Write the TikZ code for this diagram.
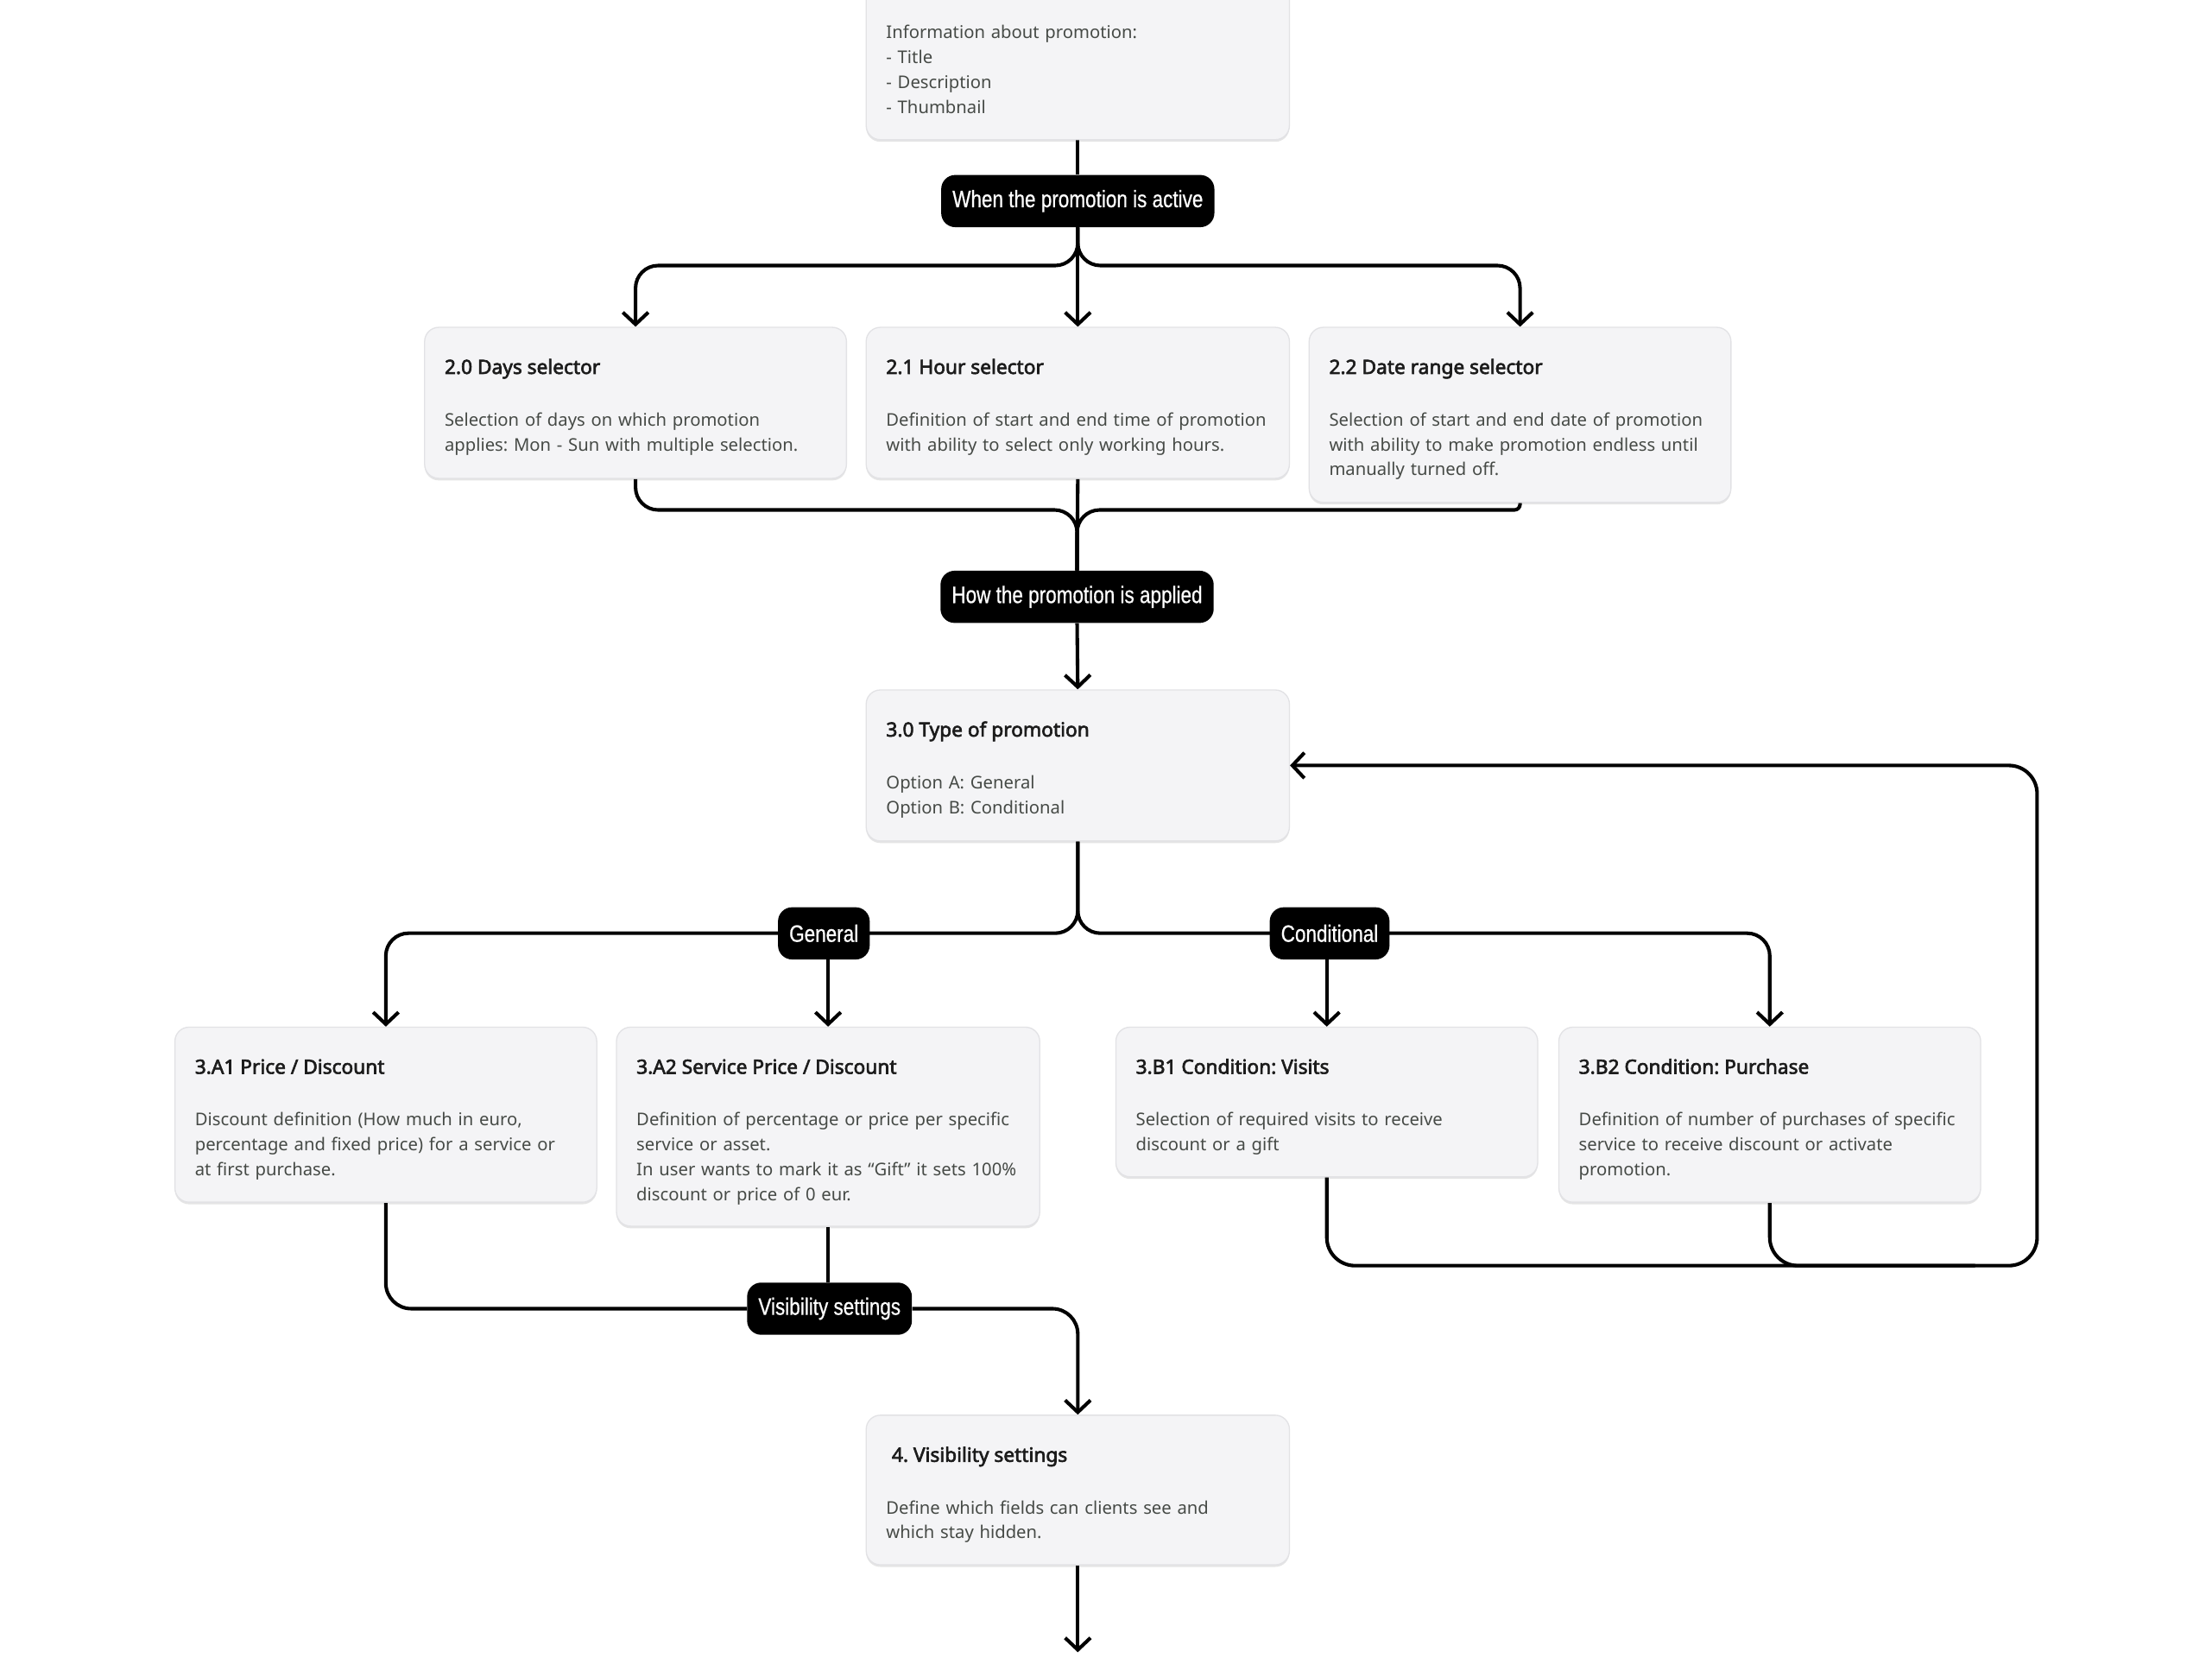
\documentclass[tikz,border=0pt]{standalone}
\usepackage{fontspec}
\setmainfont{Noto Sans}[BoldFont={Noto Sans}, BoldFeatures={FakeBold=2.8}]
\newfontfamily\pillfont[FakeStretch=0.82, FakeBold=0.6]{Liberation Sans}
\usetikzlibrary{arrows.meta,shadows,calc}
\definecolor{cardfill}{HTML}{F4F4F6}
\definecolor{cardline}{HTML}{E2E2E5}
\definecolor{titlecol}{HTML}{1C1C1C}
\definecolor{bodycol}{HTML}{464A46}
\pgfdeclarelayer{back}
\pgfdeclarelayer{lines}
\pgfsetlayers{back,lines,main}
\frenchspacing
\newcommand\mycard[7]{%
  \node[card, minimum width=#4pt-#2pt, minimum height=#5pt-#3pt] (#1) at ({(#2+#4)/2},{(#3+#5)/2}) {};
  \node[cardtitle, anchor=base west] (#1-t) at (#2+14,#3+33) {#6};
  \node[cardbody, anchor=base west] (#1-b) at (#2+14,#3+70) {#7};
}
\begin{document}
\begin{tikzpicture}[x=1pt,y=-1pt,
  card/.style={draw=cardline, line width=0.8pt, fill=cardfill, rounded corners=10pt, inner sep=0pt,
    drop shadow={shadow xshift=0pt, shadow yshift=-1.5pt, opacity=0.10, fill=black}},
  cardtitle/.style={font=\bfseries\fontsize{13.9}{16}\selectfont, text=titlecol, inner sep=0pt},
  cardbody/.style={font=\fontsize{12.4}{17.6}\selectfont, text=bodycol, inner sep=0pt, align=left, text width=290pt},
  pill/.style={fill=black, rounded corners=10pt, text=white, font=\pillfont\fontsize{16.8}{18}\selectfont,
    inner xsep=8pt, inner ysep=0pt, minimum height=37pt},
  conn/.style={line width=2.5pt, black, rounded corners=16pt},
  arr/.style={conn, -{Straight Barb[length=8.5pt, width=18pt]}}]
\begin{pgfonlayer}{back}
\fill[white] (0,0) rectangle (1568,1175);
\end{pgfonlayer}
\useasboundingbox (0,0) rectangle (1568,1175);

% top card
\node[card, minimum width=300pt, minimum height=129pt] (b1) at (764,34.5) {};
\node[cardbody, anchor=base west] (b1-b) at (628,27.5) {Information about promotion:\\- Title\\- Description\\- Thumbnail};

\mycard{b20}{301}{232}{600}{339}{2.0 Days selector}{Selection of days on which promotion\\applies: Mon - Sun with multiple selection.}
\mycard{b21}{614}{232}{914}{339}{2.1 Hour selector}{Definition of start and end time of promotion\\with ability to select only working hours.}
\mycard{b22}{928}{232}{1227}{356}{2.2 Date range selector}{Selection of start and end date of promotion\\with ability to make promotion endless until\\manually turned off.}
\mycard{b30}{614}{489}{914}{596}{3.0 Type of promotion}{Option A: General\\Option B: Conditional}
\mycard{b3A1}{124}{728}{423}{852}{3.A1 Price / Discount}{Discount definition (How much in euro,\\percentage and fixed price) for a service or\\at first purchase.}
\mycard{b3A2}{437}{728}{737}{869}{3.A2 Service Price / Discount}{Definition of percentage or price per specific\\service or asset.\\In user wants to mark it as “Gift” it sets 100\%\\discount or price of 0 eur.}
\mycard{b3B1}{791}{728}{1090}{834}{3.B1 Condition: Visits}{Selection of required visits to receive\\discount or a gift}
\mycard{b3B2}{1105}{728}{1404}{852}{3.B2 Condition: Purchase}{Definition of number of purchases of specific\\service to receive discount or activate\\promotion.}
\mycard{b4}{614}{1003}{914}{1109}{\hspace*{4pt}4.\ Visibility settings}{Define which fields can clients see and\\which stay hidden.}

% pills
\node[pill] (p1) at (764,142.5) {When the promotion is active};
\node[pill] (p2) at (763.5,423) {How the promotion is applied};
\node[pill] (gen) at (584,661.5) {General};
\node[pill] (cond) at (942.5,661.5) {Conditional};
\node[pill] (vis) at (588,927.5) {Visibility settings};
\coordinate (endpt) at (764,1171);

\begin{pgfonlayer}{lines}
\draw[conn] (b1.south) -- (p1.north);
\draw[arr] (p1.south) -- (b21.north);
\draw[arr] (p1.south) -- ++(0,27) -| (b20.north);
\draw[arr] (p1.south) -- ++(0,27) -| (b22.north);
\draw[conn] (b20.south) -- ++(0,22) -| (p2.north);
\draw[conn] (b22.south) [rounded corners=4pt] -- ++(0,5) [rounded corners=16pt] -| (p2.north);
\draw[conn] (b21.south) -- (p2.north);
\draw[arr] (p2.south) -- (b30.north);
\draw[arr] (b30.south) -- ++(0,65) -| (b3A1.north);
\draw[arr] (b30.south) -- ++(0,65) -| (b3B2.north);
\draw[arr] (b3A2.north |- gen.south) -- (b3A2.north);
\draw[arr] (b3B1.north |- cond.south) -- (b3B1.north);
\draw[conn, rounded corners=18pt] (b3A1.south) |- (vis.west);
\draw[conn] (b3A2.south) -- (b3A2.south |- vis.north);
\draw[arr, rounded corners=18pt] (vis.east) -| (b4.north);
\draw[arr, rounded corners=20pt] (b3B1.south) |- (1444,897) |- (b30.east);
\draw[conn, rounded corners=20pt] (b3B2.south) |- (1400,897);
\draw[arr] (b4.south) -- (endpt);
\end{pgfonlayer}
\end{tikzpicture}
\end{document}
